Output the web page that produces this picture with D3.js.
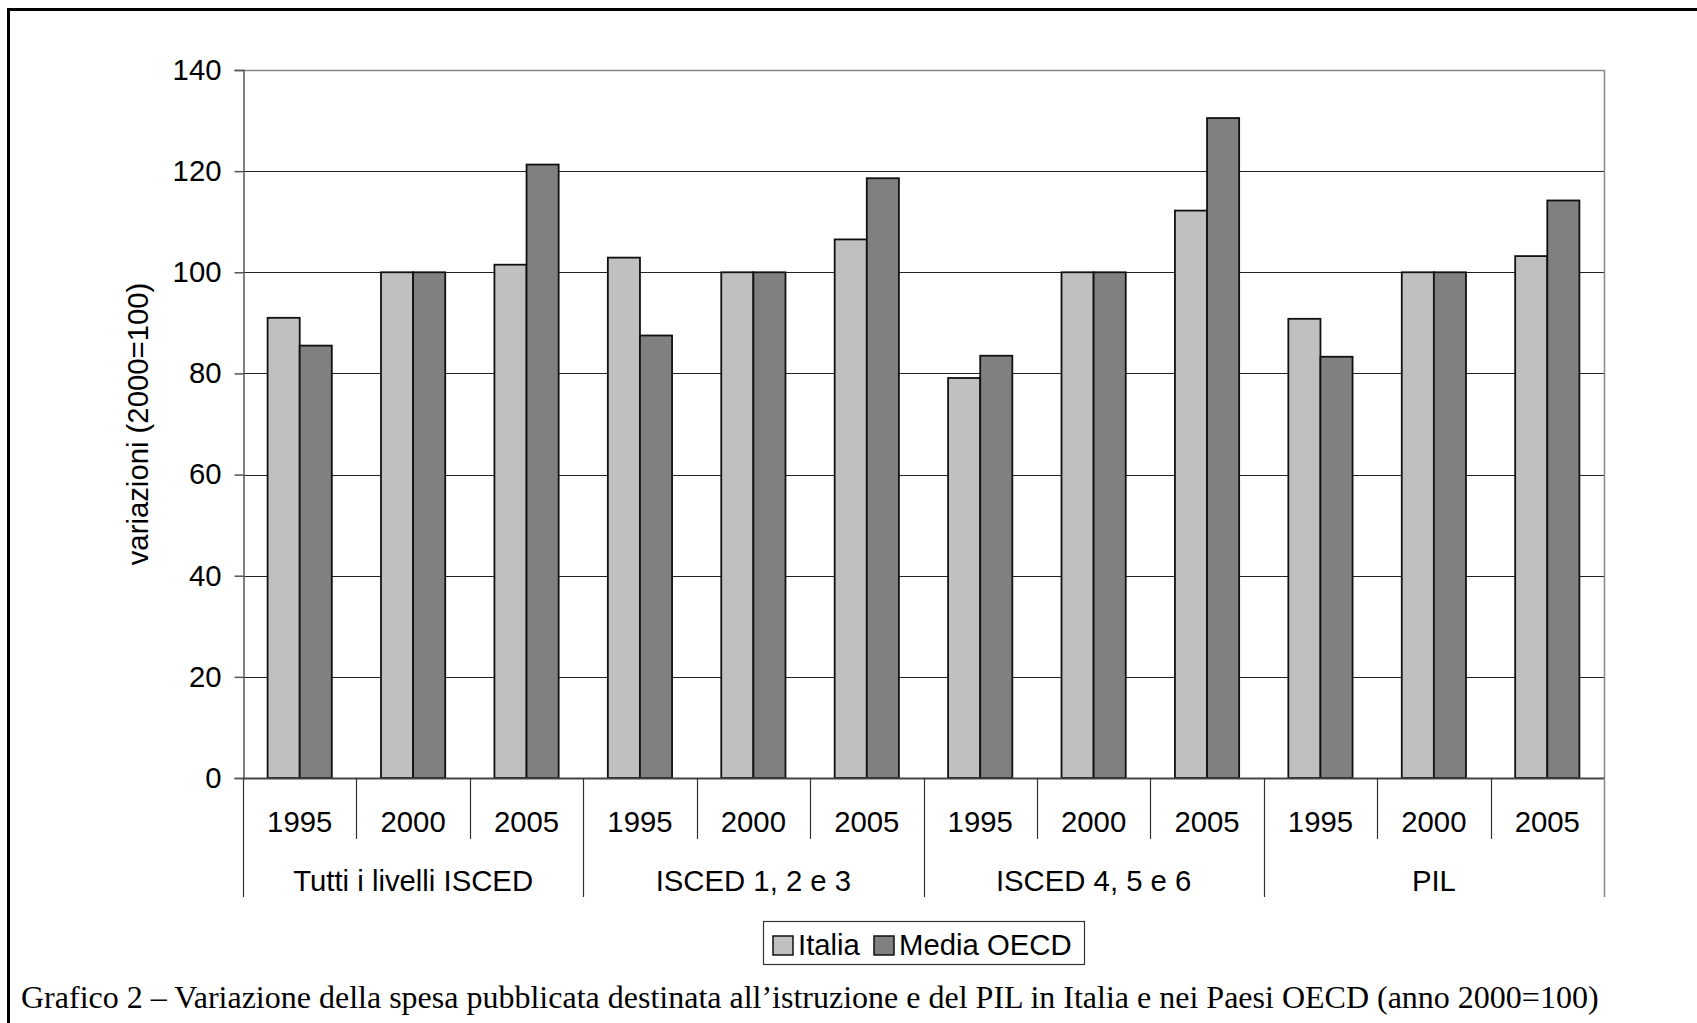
<!DOCTYPE html>
<html>
<head>
<meta charset="utf-8">
<script src="https://cdn.jsdelivr.net/npm/d3@7/dist/d3.min.js"></script>
<style>
  html, body { margin: 0; padding: 0; background: #fff; }
  svg { display: block; }
  text { font-family: "Liberation Sans", Arial, sans-serif; fill: #000; }
  .caption { font-family: "Liberation Serif", "Times New Roman", serif; }
</style>
</head>
<body>
<svg id="chart" width="1697" height="1023"></svg>
<script>
// Spending index (2000 = 100) by education level and year
const groups = ["Tutti i livelli ISCED", "ISCED 1, 2 e 3", "ISCED 4, 5 e 6", "PIL"];
const years = ["1995", "2000", "2005"];
const seriesNames = ["Italia", "Media OECD"];
const italia = [91, 100, 101.5, 102.9, 100, 106.5, 79.1, 100, 112.2, 90.8, 100, 103.2];
const mediaOECD = [85.5, 100, 121.3, 87.5, 100, 118.6, 83.5, 100, 130.5, 83.3, 100, 114.2];
const yTicks = [0, 20, 40, 60, 80, 100, 120, 140];
const yTitle = "variazioni (2000=100)";
const captionText = "Grafico 2 \u2013 Variazione della spesa pubblicata destinata all\u2019istruzione e del PIL in Italia e nei Paesi OECD (anno 2000=100)";

const colors = { "Italia": "#c0c0c0", "Media OECD": "#808080" };
const FS = 29.3;

const svg = d3.select("#chart");
const plot = { left: 243, right: 1604, top: 70, bottom: 778 };

// outer frame (continues past the right and bottom edges)
svg.append("path")
  .attr("d", "M8.5,1030 V9.5 H1710")
  .attr("fill", "none").attr("stroke", "#000").attr("stroke-width", 3);

// category keys: one per group/year pair
const cats = [];
groups.forEach((g, gi) => years.forEach((yr, yi) => cats.push({ key: gi + "-" + yi, group: g, year: yr, gi, yi })));

const x = d3.scaleBand().domain(cats.map(c => c.key)).range([plot.left, plot.right]).padding(0);
const xs = d3.scaleBand().domain(seriesNames).range([0, x.bandwidth()]).paddingInner(0).paddingOuter(0.766);
const y = d3.scaleLinear().domain([0, 140]).range([plot.bottom, plot.top]);

// gridlines
svg.append("g").selectAll("line").data(yTicks.filter(t => t > 0 && t < 140)).join("line")
  .attr("x1", plot.left).attr("x2", plot.right)
  .attr("y1", d => Math.round(y(d)) + 0.5).attr("y2", d => Math.round(y(d)) + 0.5)
  .attr("stroke", "#222").attr("stroke-width", 1.2);

// plot border (top and right)
svg.append("path")
  .attr("d", `M${plot.left},${Math.round(y(140)) + 0.5} H${plot.right + 0.5} V${plot.bottom}`)
  .attr("fill", "none").attr("stroke", "#888").attr("stroke-width", 1.5);

// y axis
const yAxis = d3.axisLeft(y).tickValues(yTicks).tickSize(9).tickPadding(13);
const ya = svg.append("g").attr("transform", `translate(${plot.left + 0.5},0)`).call(yAxis);
ya.select(".domain").attr("stroke", "#555").attr("stroke-width", 1.5);
ya.selectAll(".tick line").attr("stroke", "#555").attr("stroke-width", 1.5);
ya.selectAll(".tick text").attr("font-size", FS).attr("fill", "#000")
  .attr("font-family", "Liberation Sans, Arial, sans-serif");

// y title
svg.append("text")
  .attr("transform", `translate(137,${(plot.top + plot.bottom) / 2}) rotate(-90)`)
  .attr("text-anchor", "middle").attr("dominant-baseline", "central")
  .attr("font-size", FS).text(yTitle);

// bars
const rows = cats.map((c, i) => ({ cat: c, values: [
  { name: "Italia", v: italia[i] },
  { name: "Media OECD", v: mediaOECD[i] }
]}));
const barG = svg.append("g");
rows.forEach(r => {
  barG.selectAll(null).data(r.values).join("rect")
    .attr("x", d => x(r.cat.key) + xs(d.name))
    .attr("width", xs.bandwidth())
    .attr("y", d => y(d.v))
    .attr("height", d => y(0) - y(d.v))
    .attr("fill", d => colors[d.name])
    .attr("stroke", "#111").attr("stroke-width", 1.8);
});

// x axis baseline
svg.append("line")
  .attr("x1", plot.left).attr("x2", plot.right + 1)
  .attr("y1", plot.bottom + 0.5).attr("y2", plot.bottom + 0.5)
  .attr("stroke", "#444").attr("stroke-width", 1.8);

// year separators and labels
const axG = svg.append("g");
cats.forEach((c, i) => {
  if (c.yi > 0) {
    const xx = Math.round(x(c.key)) + 0.5;
    axG.append("line").attr("x1", xx).attr("x2", xx)
      .attr("y1", plot.bottom).attr("y2", 839)
      .attr("stroke", "#333").attr("stroke-width", 1.2);
  }
  axG.append("text")
    .attr("x", x(c.key) + x.bandwidth() / 2).attr("y", 832)
    .attr("text-anchor", "middle").attr("font-size", FS).text(c.year);
});

// group separators and labels
groups.forEach((g, gi) => {
  const first = cats.find(c => c.gi === gi);
  const x0 = x(first.key);
  const x1 = x0 + x.bandwidth() * years.length;
  const xx = Math.round(x0) + 0.5;
  axG.append("line").attr("x1", xx).attr("x2", xx)
    .attr("y1", plot.bottom).attr("y2", 897)
    .attr("stroke", "#333").attr("stroke-width", 1.2);
  axG.append("text")
    .attr("x", (x0 + x1) / 2).attr("y", 891)
    .attr("text-anchor", "middle").attr("font-size", FS).text(g);
});
axG.append("line").attr("x1", plot.right + 0.5).attr("x2", plot.right + 0.5)
  .attr("y1", plot.bottom).attr("y2", 897)
  .attr("stroke", "#888").attr("stroke-width", 1.5);

// legend
const leg = svg.append("g");
leg.append("rect").attr("x", 763.5).attr("y", 921.5).attr("width", 321).attr("height", 43)
  .attr("fill", "#fff").attr("stroke", "#333").attr("stroke-width", 1.2);
const legendItems = [
  { name: "Italia", sx: 773, tx: 798 },
  { name: "Media OECD", sx: 874, tx: 899 }
];
legendItems.forEach(it => {
  leg.append("rect").attr("x", it.sx).attr("y", 936).attr("width", 20).attr("height", 19)
    .attr("fill", colors[it.name]).attr("stroke", "#111").attr("stroke-width", 1.5);
  leg.append("text").attr("x", it.tx).attr("y", 955).attr("font-size", FS).text(it.name);
});

// caption
svg.append("text").attr("class", "caption")
  .attr("x", 21).attr("y", 1008).attr("font-size", 32).text(captionText);
</script>
</body>
</html>
